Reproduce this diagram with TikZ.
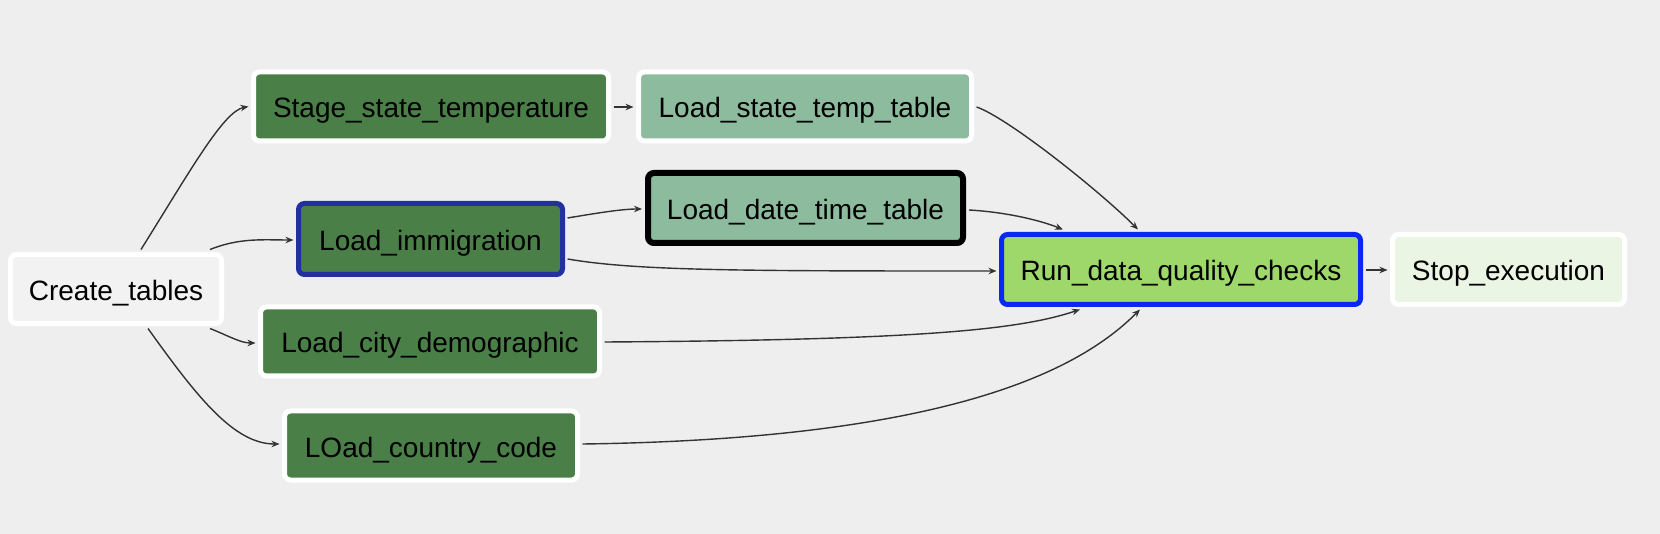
\documentclass[tikz,border=0pt]{standalone}
\usepackage{fontspec}
\setmainfont{Liberation Sans}
\usetikzlibrary{arrows.meta,calc}
\definecolor{bgc}{HTML}{EEEEEE}
\definecolor{darkg}{HTML}{4A7F48}
\definecolor{midg}{HTML}{8DBB9E}
\definecolor{rung}{HTML}{9ED86B}
\definecolor{stopg}{HTML}{EAF5E3}
\definecolor{createc}{HTML}{F2F2F2}
\definecolor{navyb}{HTML}{2230A0}
\definecolor{brightb}{HTML}{0A28F5}
\definecolor{edgec}{HTML}{333333}
\tikzset{
  task/.style={rectangle, rounded corners=6pt, draw=white, line width=5pt,
    inner sep=0pt, minimum height=69pt, text height=27pt, text depth=4pt,
    font=\fontsize{28}{32}\selectfont},
  conn/.style={draw=edgec, line width=1.4pt, -{Stealth[length=8pt,width=6.5pt]}}
}
\begin{document}
\begin{tikzpicture}[x=1pt,y=-1pt]
\fill[bgc] (0,0) rectangle (1660,534);
\useasboundingbox (0,0) rectangle (1660,534);

\node[task, fill=createc, minimum width=211pt] (create) at (116,289) {Create\_tables};
\node[task, fill=darkg, minimum width=355pt] (stage) at (431,106.5) {Stage\_state\_temperature};
\node[task, fill=midg, minimum width=333pt] (lstate) at (805,106.5) {Load\_state\_temp\_table};
\node[task, fill=darkg, draw=navyb, minimum width=264pt, minimum height=71pt] (immig) at (430.5,239) {Load\_immigration};
\node[task, fill=midg, draw=black, line width=6pt, minimum width=315pt, minimum height=70pt] (datet) at (805.5,208) {Load\_date\_time\_table};
\node[task, fill=darkg, minimum width=339pt] (city) at (430,341.5) {Load\_city\_demographic};
\node[task, fill=darkg, minimum width=293pt] (country) at (431,445.5) {LOad\_country\_code};
\node[task, fill=rung, draw=brightb, minimum width=359pt, minimum height=70pt] (run) at (1181,269.5) {Run\_data\_quality\_checks};
\node[task, fill=stopg, minimum width=232pt, minimum height=70pt] (stop) at (1508.5,269.5) {Stop\_execution};

% edges
\draw[conn] ($(create.north)+(25,-2.5)$) .. controls +(50,-80) and +(-25,5) .. ($(stage.west)+(-2.5,0)$);
\draw[conn] ($(create.north)+(94,-2.5)$) .. controls +(30,-12) and +(-30,0) .. ($(immig.west)+(-2.5,1)$);
\draw[conn] ($(create.south)+(94,2.5)$) .. controls +(20,8) and +(-15,0) .. ($(city.west)+(-2.5,1.5)$);
\draw[conn] ($(create.south)+(32,2.5)$) .. controls +(50,70) and +(-45,0) .. ($(country.west)+(-2.5,-1.5)$);
\draw[conn] ($(stage.east)+(2.5,0.5)$) -- ($(lstate.west)+(-2.5,0.5)$);
\draw[conn] ($(immig.east)+(2.5,-21)$) .. controls +(30,-5) and +(-20,0) .. ($(datet.west)+(-3,1)$);
\draw[conn] ($(immig.east)+(2.5,20)$) .. controls +(70,12) and +(-250,0) .. ($(run.west)+(-2.5,1.5)$);
\draw[conn] ($(lstate.east)+(2.5,0.5)$) .. controls +(30,10) and +(-40,-40) .. ($(run.north)+(-43,-2.5)$);
\draw[conn] ($(datet.east)+(3,2)$) .. controls +(35,2) and +(-25,-10) .. ($(run.north)+(-118,-2.5)$);
\draw[conn] ($(city.east)+(2.5,0.5)$) .. controls +(320,-2) and +(-60,20) .. ($(run.south)+(-101,2.5)$);
\draw[conn] ($(country.east)+(2.5,-1.5)$) .. controls +(380,-5) and +(-55,55) .. ($(run.south)+(-41,2.5)$);
\draw[conn] ($(run.east)+(2.5,0.5)$) -- ($(stop.west)+(-2.5,0.5)$);
\end{tikzpicture}
\end{document}
